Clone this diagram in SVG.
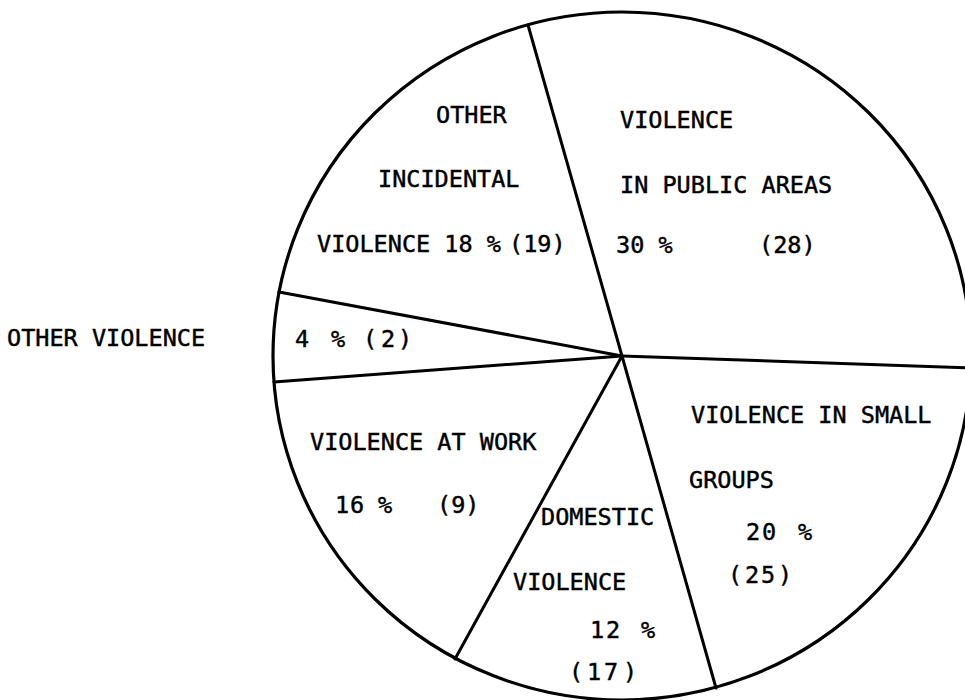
<svg xmlns="http://www.w3.org/2000/svg" width="965" height="700" viewBox="0 0 965 700">
<style>
  .t { font-family: "DejaVu Sans Mono", "Liberation Mono", monospace; font-size: 23.5px; fill: #000; stroke: #000; stroke-width: 0.45; }
  .outline { fill: none; stroke: #000; stroke-width: 3.2; }
  .spoke { stroke: #000; stroke-width: 3; stroke-linecap: round; fill: none; }
</style>
<rect width="965" height="700" fill="#fff"/>
<g id="pie">
  <ellipse class="outline" cx="622" cy="356" rx="349" ry="344"/>
</g>
<g id="connectors">
  <line class="spoke" x1="622" y1="356" x2="528" y2="25"/>
  <line class="spoke" x1="622" y1="356" x2="972" y2="368"/>
  <line class="spoke" x1="622" y1="356" x2="716" y2="688"/>
  <line class="spoke" x1="622" y1="356" x2="455" y2="659"/>
  <line class="spoke" x1="622" y1="356" x2="274" y2="382"/>
  <line class="spoke" x1="622" y1="356" x2="279" y2="292"/>
</g>
<g id="other-incidental">
  <text class="t" x="436" y="123">OTHER</text>
  <text class="t" x="378" y="187">INCIDENTAL</text>
  <text class="t" x="317" y="252">VIOLENCE 18 %</text>
  <text class="t" x="509" y="252">(19)</text>
</g>
<g id="public-areas">
  <text class="t" x="620" y="128">VIOLENCE</text>
  <text class="t" x="620" y="193">IN PUBLIC AREAS</text>
  <text class="t" x="616" y="253">30 %</text>
  <text class="t" x="759" y="253">(28)</text>
</g>
<g id="other-violence">
  <text class="t" x="7" y="346">OTHER VIOLENCE</text>
  <text class="t" x="295 331 363 381 398" y="347">4%(2)</text>
</g>
<g id="at-work">
  <text class="t" x="310" y="450">VIOLENCE AT WORK</text>
  <text class="t" x="335 350 378" y="513">16%</text>
  <text class="t" x="437" y="513">(9)</text>
</g>
<g id="domestic">
  <text class="t" x="541" y="525">DOMESTIC</text>
  <text class="t" x="513" y="590">VIOLENCE</text>
  <text class="t" x="590 606 641" y="638">12%</text>
  <text class="t" x="569 587 604 623" y="680">(17)</text>
</g>
<g id="small-groups">
  <text class="t" x="691" y="423">VIOLENCE IN SMALL</text>
  <text class="t" x="689" y="488">GROUPS</text>
  <text class="t" x="746 762 798" y="540">20%</text>
  <text class="t" x="728 745 761 778" y="583">(25)</text>
</g>
</svg>
